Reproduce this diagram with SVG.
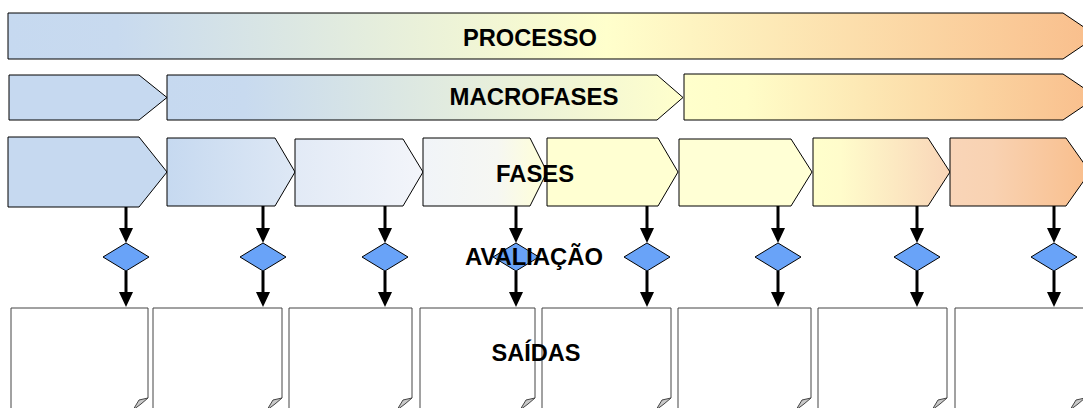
<svg xmlns="http://www.w3.org/2000/svg" width="1083" height="408" viewBox="0 0 1083 408">
<style>
.bar{stroke:#000;stroke-width:1}
.dia{fill:#69A3F8;stroke:#000;stroke-width:1}
.doc{fill:#fff;stroke:#444;stroke-width:1}
.fold{fill:#c8c8c8;stroke:#444;stroke-width:1}
.lbl{font-family:"Liberation Sans",Arial,sans-serif;font-weight:bold;font-size:23px;fill:#000;text-anchor:middle}
.con{stroke:#000;stroke-width:3;fill:none}
</style>
<defs>
<linearGradient id="gProc" x1="0" y1="0" x2="1" y2="0">
<stop offset="0" stop-color="#C6D9F0"/><stop offset="0.1" stop-color="#C8DAEF"/><stop offset="0.55" stop-color="#FFFFCC"/><stop offset="1" stop-color="#F9BE8C"/>
</linearGradient>
<linearGradient id="gM2" x1="0" y1="0" x2="1" y2="0">
<stop offset="0" stop-color="#C6D9F0"/><stop offset="0.15" stop-color="#C8DAEF"/><stop offset="1" stop-color="#FFFFCC"/>
</linearGradient>
<linearGradient id="gM3" x1="0" y1="0" x2="1" y2="0">
<stop offset="0" stop-color="#FFFFCC"/><stop offset="0.15" stop-color="#FFFDC8"/><stop offset="1" stop-color="#F9BE8C"/>
</linearGradient>
<linearGradient id="gF2" x1="0" y1="0" x2="1" y2="0">
<stop offset="0" stop-color="#C6D9F0"/><stop offset="1" stop-color="#DEE8F5"/>
</linearGradient>
<linearGradient id="gF3" x1="0" y1="0" x2="1" y2="0">
<stop offset="0" stop-color="#E2EAF6"/><stop offset="1" stop-color="#F3F5FA"/>
</linearGradient>
<linearGradient id="gF4" x1="0" y1="0" x2="1" y2="0">
<stop offset="0" stop-color="#F1F4F8"/><stop offset="0.6" stop-color="#F6F7F2"/><stop offset="1" stop-color="#FFFFD6"/>
</linearGradient>
<linearGradient id="gF7" x1="0" y1="0" x2="1" y2="0">
<stop offset="0" stop-color="#FFFFCC"/><stop offset="0.2" stop-color="#FFFCCB"/><stop offset="1" stop-color="#F9D5B8"/>
</linearGradient>
<linearGradient id="gF8" x1="0" y1="0" x2="1" y2="0">
<stop offset="0" stop-color="#F9D5B8"/><stop offset="0.3" stop-color="#F9D2B2"/><stop offset="1" stop-color="#F9BE8C"/>
</linearGradient>
<marker id="ah" viewBox="0 0 15 14" refX="2" refY="7" markerWidth="15" markerHeight="14" markerUnits="userSpaceOnUse" orient="auto">
<path d="M0,0 L15,7 L0,14 Z" fill="#000"/>
</marker>
</defs>

<g id="processo">
<path class="bar" fill="url(#gProc)" d="M8,13 L1063,13 L1097,36 L1063,59 L8,59 Z"/>
</g>

<g id="macro1"><path class="bar" fill="#C6D9F0" d="M9,75 L139,75 L167,97.5 L139,120 L9,120 Z"/></g>
<g id="macro2"><path class="bar" fill="url(#gM2)" d="M167,75 L657,75 L683,97.5 L657,120 L167,120 Z"/></g>
<g id="macro3"><path class="bar" fill="url(#gM3)" d="M684,74 L1063,74 L1097,97 L1063,120 L684,120 Z"/></g>

<g id="fase1"><path class="bar" fill="#C6D9F0" d="M8,137 L139,137 L167,172 L139,207 L8,207 Z"/></g>
<g id="fase2"><path class="bar" fill="url(#gF2)" d="M167,138 L275,138 L295,172 L275,206 L167,206 Z"/></g>
<g id="fase3"><path class="bar" fill="url(#gF3)" d="M295,139 L403,139 L423,172 L403,206 L295,206 Z"/></g>
<g id="fase4"><path class="bar" fill="url(#gF4)" d="M423,138 L530,138 L547,172 L530,206 L423,206 Z"/></g>
<g id="fase5"><path class="bar" fill="#FFFFD2" d="M547,138 L658,138 L678,172 L658,206 L547,206 Z"/></g>
<g id="fase6"><path class="bar" fill="#FFFFD5" d="M679,139 L791,139 L812,172 L791,206 L679,206 Z"/></g>
<g id="fase7"><path class="bar" fill="url(#gF7)" d="M813,138 L928,138 L950,172 L928,206 L813,206 Z"/></g>
<g id="fase8"><path class="bar" fill="url(#gF8)" d="M950,138 L1066,138 L1090,172 L1066,206 L950,206 Z"/></g>

<g id="aval1"><path class="dia" d="M126,243 L149,257 L126,271 L103,257 Z"/></g>
<g id="aval2"><path class="dia" d="M263,243 L286,257 L263,271 L240,257 Z"/></g>
<g id="aval3"><path class="dia" d="M385,243 L408,257 L385,271 L362,257 Z"/></g>
<g id="aval4"><path class="dia" d="M516,243 L539,257 L516,271 L493,257 Z"/></g>
<g id="aval5"><path class="dia" d="M647,243 L670,257 L647,271 L624,257 Z"/></g>
<g id="aval6"><path class="dia" d="M778,243 L801,257 L778,271 L755,257 Z"/></g>
<g id="aval7"><path class="dia" d="M917,243 L940,257 L917,271 L894,257 Z"/></g>
<g id="aval8"><path class="dia" d="M1054,243 L1077,257 L1054,271 L1031,257 Z"/></g>

<g id="saida1"><path class="doc" d="M11,420 L11,308 L148,308 L148,398"/><path class="fold" d="M148,398 L139,400 L133,410 L141,404 Z"/></g>
<g id="saida2"><path class="doc" d="M153,420 L153,308 L282,308 L282,398"/><path class="fold" d="M282,398 L273,400 L267,410 L275,404 Z"/></g>
<g id="saida3"><path class="doc" d="M289,420 L289,308 L412,308 L412,398"/><path class="fold" d="M412,398 L403,400 L397,410 L405,404 Z"/></g>
<g id="saida4"><path class="doc" d="M420,420 L420,308 L535,308 L535,398"/><path class="fold" d="M535,398 L526,400 L520,410 L528,404 Z"/></g>
<g id="saida5"><path class="doc" d="M542,420 L542,308 L671,308 L671,398"/><path class="fold" d="M671,398 L662,400 L656,410 L664,404 Z"/></g>
<g id="saida6"><path class="doc" d="M678,420 L678,308 L811,308 L811,398"/><path class="fold" d="M811,398 L802,400 L796,410 L804,404 Z"/></g>
<g id="saida7"><path class="doc" d="M818,420 L818,308 L947,308 L947,398"/><path class="fold" d="M947,398 L938,400 L932,410 L940,404 Z"/></g>
<g id="saida8"><path class="doc" d="M955,420 L955,308 L1083,308"/><path class="fold" d="M1085,398 L1076,400 L1070,410 L1078,404 Z"/></g>

<g id="connectors">
<line class="con" x1="126" y1="207" x2="126" y2="230" marker-end="url(#ah)"/>
<line class="con" x1="263" y1="206" x2="263" y2="230" marker-end="url(#ah)"/>
<line class="con" x1="385" y1="206" x2="385" y2="230" marker-end="url(#ah)"/>
<line class="con" x1="516" y1="206" x2="516" y2="230" marker-end="url(#ah)"/>
<line class="con" x1="647" y1="206" x2="647" y2="230" marker-end="url(#ah)"/>
<line class="con" x1="778" y1="206" x2="778" y2="230" marker-end="url(#ah)"/>
<line class="con" x1="917" y1="206" x2="917" y2="230" marker-end="url(#ah)"/>
<line class="con" x1="1054" y1="206" x2="1054" y2="230" marker-end="url(#ah)"/>
<line class="con" x1="126" y1="271" x2="126" y2="294" marker-end="url(#ah)"/>
<line class="con" x1="263" y1="271" x2="263" y2="294" marker-end="url(#ah)"/>
<line class="con" x1="385" y1="271" x2="385" y2="294" marker-end="url(#ah)"/>
<line class="con" x1="516" y1="271" x2="516" y2="294" marker-end="url(#ah)"/>
<line class="con" x1="647" y1="271" x2="647" y2="294" marker-end="url(#ah)"/>
<line class="con" x1="778" y1="271" x2="778" y2="294" marker-end="url(#ah)"/>
<line class="con" x1="917" y1="271" x2="917" y2="294" marker-end="url(#ah)"/>
<line class="con" x1="1054" y1="271" x2="1054" y2="294" marker-end="url(#ah)"/>
</g>

<g id="labels">
<text class="lbl" x="530" y="46" textLength="134" lengthAdjust="spacingAndGlyphs">PROCESSO</text>
<text class="lbl" x="534" y="105" textLength="169" lengthAdjust="spacingAndGlyphs">MACROFASES</text>
<text class="lbl" x="535" y="182" textLength="78" lengthAdjust="spacingAndGlyphs">FASES</text>
<text class="lbl" x="534" y="265" textLength="138" lengthAdjust="spacingAndGlyphs">AVALIAÇÃO</text>
<text class="lbl" x="536" y="361" textLength="89" lengthAdjust="spacingAndGlyphs">SAÍDAS</text>
</g>
</svg>
